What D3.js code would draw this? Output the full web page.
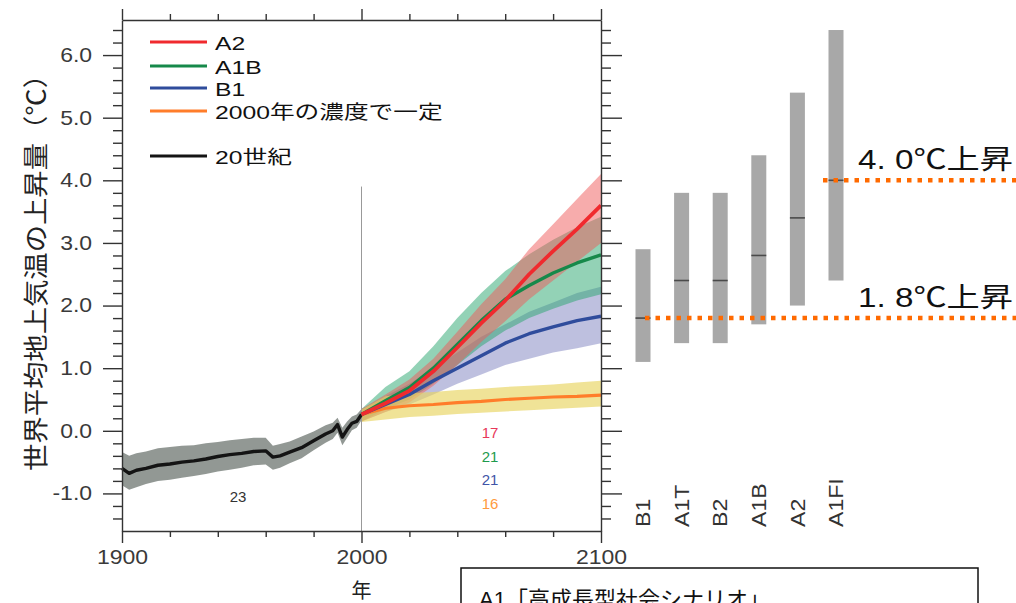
<!DOCTYPE html>
<html>
<head>
<meta charset="utf-8">
<script src="https://cdn.jsdelivr.net/npm/d3@7"></script>
<style>
  body { margin: 0; background: #fff; }
  svg { display: block; }
  text { font-family: "Liberation Sans", "Noto Sans CJK JP", sans-serif; }
</style>
</head>
<body>
<svg id="chart" width="1016" height="603"></svg>
<script>
// 20th century observed (black) with grey band
const years20 = [1900, 1903, 1906, 1910, 1915, 1920, 1925, 1930, 1935, 1940, 1945, 1950, 1955, 1960, 1963, 1966, 1970, 1975, 1980, 1985, 1988, 1990, 1992, 1994, 1996, 1998, 2000];
const mean20 = [-0.6, -0.68, -0.63, -0.6, -0.55, -0.53, -0.5, -0.48, -0.45, -0.41, -0.38, -0.36, -0.33, -0.32, -0.42, -0.4, -0.34, -0.27, -0.16, -0.05, 0.0, 0.1, -0.1, 0.02, 0.12, 0.15, 0.26];
const lo20 = [-0.87, -0.94, -0.9, -0.85, -0.8, -0.78, -0.75, -0.72, -0.69, -0.65, -0.62, -0.59, -0.55, -0.54, -0.62, -0.59, -0.52, -0.44, -0.31, -0.19, -0.13, -0.03, -0.23, -0.11, 0.01, 0.05, 0.17];
const hi20 = [-0.34, -0.4, -0.36, -0.33, -0.28, -0.26, -0.24, -0.23, -0.2, -0.18, -0.15, -0.13, -0.11, -0.11, -0.24, -0.21, -0.17, -0.09, -0.01, 0.09, 0.13, 0.21, 0.05, 0.15, 0.23, 0.26, 0.35];

// projections 2000-2100
const yearsF = [2000, 2010, 2020, 2030, 2040, 2050, 2060, 2070, 2080, 2090, 2100];
const meanA2 = [0.26, 0.44, 0.64, 0.95, 1.33, 1.72, 2.08, 2.5, 2.87, 3.22, 3.6];
const loA2 = [0.15, 0.3, 0.45, 0.72, 1.05, 1.42, 1.75, 2.1, 2.4, 2.7, 3.0];
const hiA2 = [0.35, 0.58, 0.82, 1.15, 1.58, 2.02, 2.42, 2.9, 3.3, 3.7, 4.1];
const meanA1B = [0.26, 0.48, 0.69, 1.0, 1.38, 1.76, 2.1, 2.32, 2.52, 2.68, 2.81];
const loA1B = [0.15, 0.35, 0.5, 0.75, 1.05, 1.35, 1.6, 1.8, 1.95, 2.08, 2.18];
const hiA1B = [0.35, 0.7, 0.95, 1.35, 1.8, 2.2, 2.55, 2.82, 3.05, 3.25, 3.42];
const meanB1 = [0.26, 0.42, 0.58, 0.8, 1.0, 1.2, 1.4, 1.55, 1.66, 1.76, 1.83];
const loB1 = [0.15, 0.3, 0.42, 0.58, 0.75, 0.9, 1.05, 1.15, 1.25, 1.32, 1.4];
const hiB1 = [0.35, 0.55, 0.75, 1.0, 1.25, 1.5, 1.7, 1.9, 2.05, 2.2, 2.3];
const meanConst = [0.26, 0.36, 0.4, 0.42, 0.45, 0.47, 0.5, 0.52, 0.54, 0.55, 0.57];
const loConst = [0.14, 0.18, 0.22, 0.24, 0.27, 0.29, 0.31, 0.33, 0.35, 0.37, 0.39];
const hiConst = [0.34, 0.55, 0.6, 0.62, 0.65, 0.67, 0.7, 0.72, 0.74, 0.77, 0.8];

// model counts
const modelCounts = ["17", "21", "21", "16"];

// right panel: likely ranges for 2090-2099
const scenarios = ["B1", "A1T", "B2", "A1B", "A2", "A1FI"];
const rangeLow = [1.1, 1.4, 1.4, 1.7, 2.0, 2.4];
const rangeHigh = [2.9, 3.8, 3.8, 4.4, 5.4, 6.4];
const bestEst = [1.8, 2.4, 2.4, 2.8, 3.4, 4.0];

const legendNames = ["A2", "A1B", "B1", "2000年の濃度で一定", "20世紀"];
const yTicks = [-1, 0, 1, 2, 3, 4, 5, 6];
const xTicks = [1900, 2000, 2100];

const lineColors = { A2: "#f02a2e", A1B: "#16894a", B1: "#2f4c9c", C: "#ff7d2a", K: "#141414" };
const bandColors = { A2: "rgba(240,90,90,0.5)", A1B: "rgba(40,165,110,0.5)", B1: "rgba(110,115,185,0.45)", C: "rgba(232,212,95,0.65)", K: "rgba(110,118,112,0.75)" };

const svg = d3.select("#chart");
svg.append("rect").attr("width", 1016).attr("height", 603).attr("fill", "#fff");

const x = d3.scaleLinear().domain([1900, 2100]).range([122, 601]);
const y = d3.scaleLinear().domain([-1.6, 6.56]).range([531, 20]);

// bands
function band(years, lo, hi, color) {
  const area = d3.area()
      .x(function(d, i) { return x(years[i]); })
      .y0(function(d, i) { return y(lo[i]); })
      .y1(function(d, i) { return y(hi[i]); });
  svg.append("path").datum(years).attr("d", area).attr("fill", color);
}
function line(years, vals, color, w) {
  const l = d3.line()
      .x(function(d, i) { return x(years[i]); })
      .y(function(d, i) { return y(vals[i]); });
  svg.append("path").datum(years).attr("d", l)
      .attr("fill", "none").attr("stroke", color).attr("stroke-width", w)
      .attr("stroke-linejoin", "round");
}

band(years20, lo20, hi20, bandColors.K);
band(yearsF, loB1, hiB1, bandColors.B1);
band(yearsF, loA1B, hiA1B, bandColors.A1B);
band(yearsF, loA2, hiA2, bandColors.A2);
band(yearsF, loConst, hiConst, bandColors.C);

// vertical line at 2000
svg.append("line")
    .attr("x1", x(2000)).attr("x2", x(2000))
    .attr("y1", y(3.9)).attr("y2", y(-1.6))
    .attr("stroke", "#999").attr("stroke-width", 1);

line(years20, mean20, lineColors.K, 3.4);
line(yearsF, meanConst, lineColors.C, 3.2);
line(yearsF, meanB1, lineColors.B1, 3.4);
line(yearsF, meanA1B, lineColors.A1B, 3.4);
line(yearsF, meanA2, lineColors.A2, 3.8);

// axes
const minorY = d3.range(-1.4, 6.5, 0.2).filter(function(v) { return Math.abs(v - Math.round(v)) > 0.01; });
const minorX = d3.range(1920, 2100, 20).filter(function(v) { return v !== 2000; });
const stretch = 1.15;
const fmtY = function(v) { return d3.format(".1f")(v).replace("\u2212", "-"); };

function styleAxis(g) {
  g.selectAll("path, line").attr("stroke", "#333").attr("stroke-width", 1.4);
  g.selectAll("text").attr("fill", "#3a3a3a").style("font-size", "20px")
      .attr("transform", "scale(" + stretch + ",1)");
}

svg.append("g").attr("transform", "translate(" + x(1900) + ",0)")
    .call(d3.axisLeft(y).tickValues(minorY).tickSize(9).tickSizeOuter(0).tickFormat(""))
    .call(styleAxis);
svg.append("g").attr("transform", "translate(" + x(1900) + ",0)")
    .call(d3.axisLeft(y).tickValues(yTicks).tickSize(19).tickSizeOuter(0).tickPadding(7).tickFormat(fmtY))
    .call(styleAxis)
    .call(function(g) { g.select(".domain").remove(); });

svg.append("g").attr("transform", "translate(" + x(2100) + ",0)")
    .call(d3.axisRight(y).tickValues(minorY).tickSize(10).tickSizeOuter(0).tickFormat(""))
    .call(styleAxis);
svg.append("g").attr("transform", "translate(" + x(2100) + ",0)")
    .call(d3.axisRight(y).tickValues(yTicks).tickSize(21).tickSizeOuter(0).tickFormat(""))
    .call(styleAxis)
    .call(function(g) { g.select(".domain").remove(); });

svg.append("g").attr("transform", "translate(0," + y(6.56) + ")")
    .call(d3.axisTop(x).tickValues(minorX).tickSize(6).tickSizeOuter(0).tickFormat(""))
    .call(styleAxis);
svg.append("g").attr("transform", "translate(0," + y(6.56) + ")")
    .call(d3.axisTop(x).tickValues(xTicks).tickSize(11).tickSizeOuter(0).tickFormat(""))
    .call(styleAxis)
    .call(function(g) { g.select(".domain").remove(); });

svg.append("g").attr("transform", "translate(0," + y(-1.6) + ")")
    .call(d3.axisBottom(x).tickValues(minorX).tickSize(6).tickSizeOuter(0).tickFormat(""))
    .call(styleAxis);
svg.append("g").attr("transform", "translate(0," + y(-1.6) + ")")
    .call(d3.axisBottom(x).tickValues(xTicks).tickSize(12).tickSizeOuter(0).tickPadding(7).tickFormat(d3.format("d")))
    .call(styleAxis)
    .call(function(g) { g.select(".domain").remove(); });

// axis titles
svg.append("text")
    .attr("transform", "translate(45,266) rotate(-90)")
    .attr("text-anchor", "middle")
    .attr("textLength", 410).attr("lengthAdjust", "spacingAndGlyphs")
    .style("font-size", "25px").attr("fill", "#222")
    .text("世界平均地上気温の上昇量（℃）");
svg.append("text")
    .attr("x", x(2000)).attr("y", 598)
    .attr("text-anchor", "middle")
    .style("font-size", "20px").attr("fill", "#222")
    .text("年");

// legend
const legColors = [lineColors.A2, lineColors.A1B, lineColors.B1, lineColors.C, lineColors.K];
const legY = [42, 66, 88, 111, 156];
const leg = svg.append("g");
legendNames.forEach(function(name, i) {
  leg.append("line").attr("x1", 150).attr("x2", 207)
      .attr("y1", legY[i]).attr("y2", legY[i])
      .attr("stroke", legColors[i]).attr("stroke-width", 3);
  leg.append("text")
      .attr("transform", "translate(215," + (legY[i] + 3) + ") scale(1.3,1)")
      .attr("dominant-baseline", "middle")
      .style("font-size", "19px").attr("fill", "#111")
      .text(name);
});

// model counts
const countColors = ["#e8385a", "#1f9a4d", "#3f55a8", "#ff9a40"];
modelCounts.forEach(function(c, i) {
  svg.append("text").attr("x", 490).attr("y", 438 + i * 23.5)
      .attr("text-anchor", "middle").style("font-size", "15px")
      .attr("fill", countColors[i]).text(c);
});
svg.append("text").attr("x", 238).attr("y", 502)
    .attr("text-anchor", "middle").style("font-size", "15px")
    .attr("fill", "#333").text("23");

// right panel bars
const xs = d3.scalePoint().domain(scenarios).range([643, 836]);
const barW = 15;
svg.selectAll(".bar").data(scenarios).enter().append("rect")
    .attr("class", "bar")
    .attr("x", function(d) { return xs(d) - barW / 2; })
    .attr("width", barW)
    .attr("y", function(d, i) { return y(rangeHigh[i]); })
    .attr("height", function(d, i) { return y(rangeLow[i]) - y(rangeHigh[i]); })
    .attr("fill", "#a8a8a8");
svg.selectAll(".best").data(scenarios).enter().append("line")
    .attr("x1", function(d) { return xs(d) - barW / 2; })
    .attr("x2", function(d) { return xs(d) + barW / 2; })
    .attr("y1", function(d, i) { return y(bestEst[i]); })
    .attr("y2", function(d, i) { return y(bestEst[i]); })
    .attr("stroke", "#4a4a4a").attr("stroke-width", 1.6);
svg.selectAll(".scen").data(scenarios).enter().append("text")
    .attr("transform", function(d) { return "translate(" + xs(d) + ",527) rotate(-90) scale(1.1,1)"; })
    .attr("dominant-baseline", "central")
    .style("font-size", "21px").attr("fill", "#333")
    .text(function(d) { return d; });

// reference dotted lines
const refVals = [4.0, 1.8];
const refStart = [823, 645];
const refLabels = ["4. 0℃上昇", "1. 8℃上昇"];
refVals.forEach(function(v, i) {
  svg.append("line")
      .attr("x1", refStart[i]).attr("x2", 1016)
      .attr("y1", y(v)).attr("y2", y(v))
      .attr("stroke", "#ff6a00").attr("stroke-width", 4.5)
      .attr("stroke-dasharray", "4.5,6");
  svg.append("text")
      .attr("x", 1013).attr("y", y(v) - 11)
      .attr("text-anchor", "end")
      .style("font-size", "27px").attr("fill", "#111")
      .attr("textLength", 155).attr("lengthAdjust", "spacingAndGlyphs")
      .text(refLabels[i]);
});

// box at bottom
svg.append("rect").attr("x", 461).attr("y", 568).attr("width", 517).attr("height", 60)
    .attr("fill", "#fff").attr("stroke", "#111").attr("stroke-width", 1.5);
svg.append("text").attr("x", 479).attr("y", 607)
    .style("font-size", "22px").attr("fill", "#111")
    .text("A1「高成長型社会シナリオ」");
</script>
</body>
</html>
